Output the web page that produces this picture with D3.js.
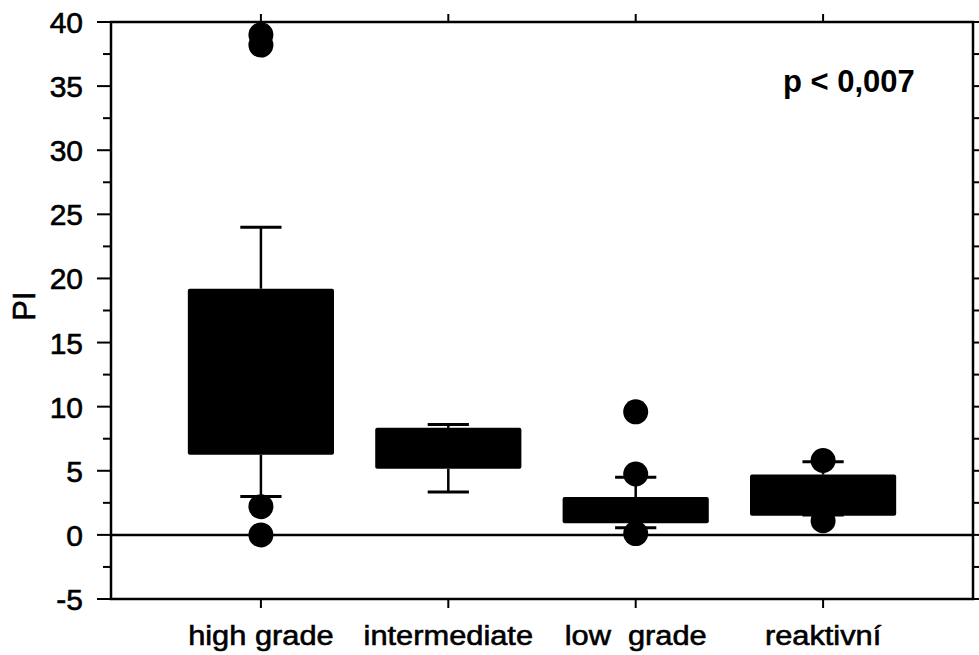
<!DOCTYPE html>
<html>
<head>
<meta charset="utf-8">
<script src="https://cdn.jsdelivr.net/npm/d3@7"></script>
<style>
body{margin:0;background:#fff;}
svg{font-family:"Liberation Sans",Arial,sans-serif;}
svg text{stroke:#000;stroke-width:0.6px;}
svg text.p_label{stroke:none;}
</style>
</head>
<body>
<svg id="chart" width="979" height="655"></svg>
<script>
// values
var categories=["high grade","intermediate","low  grade","reaktivní"];
var q1=[6.25,5.15,0.9,1.5];
var q3=[19.2,8.35,2.95,4.7];
var whisker_low=[3.0,3.35,0.55,1.55];
var whisker_high=[24.0,8.6,4.5,5.7];
var outliers=[[39.0,38.2,2.2,0],[],[9.6,4.75,0.1],[5.8,1.1]];
var y_ticks=[-5,0,5,10,15,20,25,30,35,40];
var y_minor=[-2.5,2.5,7.5,12.5,17.5,22.5,27.5,32.5,37.5];
var p_label="p < 0,007";

var left=111, right=973, top_y=22, bottom=599;

var x=d3.scaleLinear().domain([0.2,4.8]).range([left,right]);
var y=d3.scaleLinear().domain([-5,40]).range([bottom,top_y]);
var box_w=0.78, cap_w=0.22;

var svg=d3.select("#chart");

// zero line
svg.append("line")
	.attr("x1",left).attr("x2",right)
	.attr("y1",y(0)).attr("y2",y(0))
	.attr("stroke","#000").attr("stroke-width",2.5);

var data=categories.map(function(c,i){
	return {name:c,pos:i+1,q1:q1[i],q3:q3[i],lo:whisker_low[i],hi:whisker_high[i],out:outliers[i]};
});

var g=svg.selectAll("g.box").data(data).enter().append("g").attr("class","box");

// whiskers
g.append("line")
	.attr("x1",function(d){return x(d.pos);}).attr("x2",function(d){return x(d.pos);})
	.attr("y1",function(d){return y(d.q3);}).attr("y2",function(d){return y(d.hi);})
	.attr("stroke","#000").attr("stroke-width",2.5);
g.append("line")
	.attr("x1",function(d){return x(d.pos);}).attr("x2",function(d){return x(d.pos);})
	.attr("y1",function(d){return y(d.q1);}).attr("y2",function(d){return y(d.lo);})
	.attr("stroke","#000").attr("stroke-width",2.5);
// caps
["hi","lo"].forEach(function(k){
	g.append("line")
		.attr("x1",function(d){return x(d.pos-cap_w/2);}).attr("x2",function(d){return x(d.pos+cap_w/2);})
		.attr("y1",function(d){return y(d[k]);}).attr("y2",function(d){return y(d[k]);})
		.attr("stroke","#000").attr("stroke-width",3);
});
// boxes
g.append("rect")
	.attr("x",function(d){return x(d.pos-box_w/2);})
	.attr("width",x(box_w)-x(0))
	.attr("y",function(d){return y(d.q3);})
	.attr("height",function(d){return y(d.q1)-y(d.q3);})
	.attr("rx",2)
	.attr("fill","#000");
// outliers
g.selectAll("circle").data(function(d){return d.out.map(function(v){return {pos:d.pos,v:v};});})
	.enter().append("circle")
	.attr("cx",function(d){return x(d.pos);})
	.attr("cy",function(d){return y(d.v);})
	.attr("r",12.5)
	.attr("fill","#000");

// frame
svg.append("rect")
	.attr("x",left).attr("y",top_y)
	.attr("width",right-left).attr("height",bottom-top_y)
	.attr("fill","none").attr("stroke","#000").attr("stroke-width",2.5);

// y ticks left and right
y_ticks.forEach(function(t){
	svg.append("line").attr("x1",left-14).attr("x2",left).attr("y1",y(t)).attr("y2",y(t)).attr("stroke","#000").attr("stroke-width",2);
	svg.append("line").attr("x1",right).attr("x2",right+14).attr("y1",y(t)).attr("y2",y(t)).attr("stroke","#000").attr("stroke-width",2);
	svg.append("text").attr("x",83).attr("y",y(t)+11).attr("text-anchor","end")
		.attr("font-size",30).text(t);
});
y_minor.forEach(function(t){
	svg.append("line").attr("x1",left-8).attr("x2",left).attr("y1",y(t)).attr("y2",y(t)).attr("stroke","#000").attr("stroke-width",2);
	svg.append("line").attr("x1",right).attr("x2",right+8).attr("y1",y(t)).attr("y2",y(t)).attr("stroke","#000").attr("stroke-width",2);
});

// x ticks top and bottom + labels (labels drawn slightly wide, like the scan)
var stretch=1.1;
data.forEach(function(d){
	svg.append("line").attr("x1",x(d.pos)).attr("x2",x(d.pos)).attr("y1",bottom).attr("y2",bottom+9).attr("stroke","#000").attr("stroke-width",2);
	svg.append("line").attr("x1",x(d.pos)).attr("x2",x(d.pos)).attr("y1",top_y-8).attr("y2",top_y).attr("stroke","#000").attr("stroke-width",2);
	svg.append("text")
		.attr("transform","translate("+x(d.pos)+",645) scale("+stretch+",1)")
		.attr("text-anchor","middle")
		.attr("font-size",28).attr("xml:space","preserve").style("white-space","pre").text(d.name);
});

// axis title
svg.append("text").attr("transform","translate(35,306) rotate(-90)")
	.attr("text-anchor","middle").attr("font-size",31).text("PI");

// p value
svg.append("text").attr("class","p_label").attr("x",783).attr("y",92).attr("font-size",31).attr("font-weight","bold").text(p_label);
</script>
</body>
</html>
